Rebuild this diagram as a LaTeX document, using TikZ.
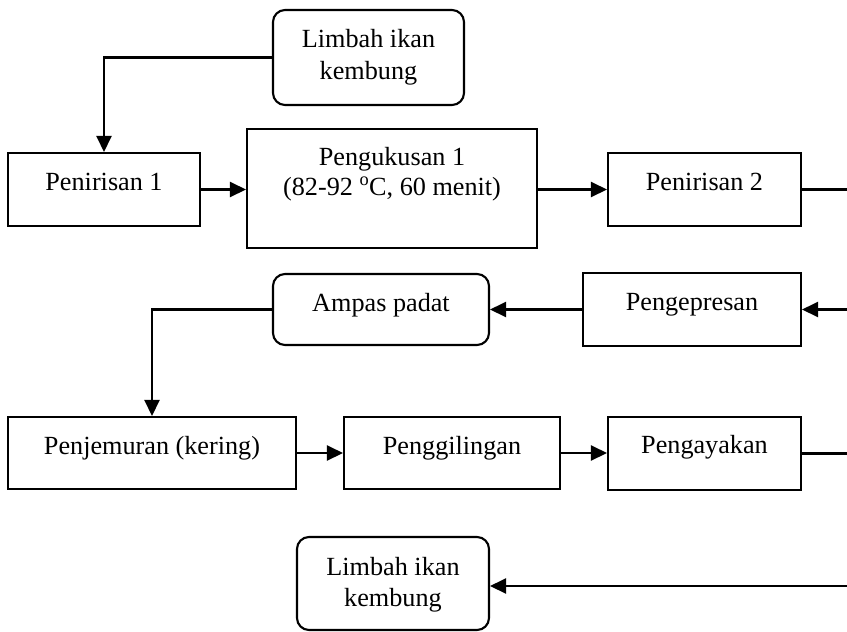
\documentclass[tikz,border=0pt]{standalone}
\usepackage{fontspec}
\setmainfont{Liberation Serif}
\usetikzlibrary{arrows.meta}
\begin{document}
\begin{tikzpicture}[x=1pt,y=-1pt,
  box/.style={draw, line width=2.1pt, inner sep=0pt, rectangle},
  rbox/.style={box, rounded corners=12pt},
  lbl/.style={anchor=base, inner sep=0pt, font=\fontsize{26.2}{31}\selectfont},
  conn/.style={line width=2.5pt},
  arr/.style={conn, -{Triangle[length=16pt,width=15pt]}}
]
\useasboundingbox (0,0) rectangle (847,632);
% boxes
\node[rbox, minimum width=191pt, minimum height=95pt] (lim1) at (368.5,57.5) {};
\node[box, minimum width=192pt, minimum height=73pt] (p1) at (104,189.5) {};
\node[box, minimum width=290pt, minimum height=119pt] (kukus) at (392,188.5) {};
\node[box, minimum width=193pt, minimum height=73pt] (p2) at (704.5,189.5) {};
\node[box, minimum width=218pt, minimum height=73pt] (press) at (692,309.5) {};
\node[rbox, minimum width=216pt, minimum height=71pt] (ampas) at (381,309.5) {};
\node[box, minimum width=288pt, minimum height=72pt] (jemur) at (152,453) {};
\node[box, minimum width=216pt, minimum height=72pt] (giling) at (452,453) {};
\node[box, minimum width=193pt, minimum height=73pt] (ayak) at (704.5,453.5) {};
\node[rbox, minimum width=192pt, minimum height=93pt] (lim2) at (393,583.5) {};
% labels
\node[lbl] (t1a) at (368.5,47.7) {Limbah ikan};
\node[lbl] (t1b) at (368.5,79) {kembung};
\node[lbl] (t2) at (104,190) {Penirisan 1};
\node[lbl] (t3a) at (392,165) {Pengukusan 1};
\node[lbl] (t3b) at (392,195) {(82-92 \textsuperscript{o}C, 60 menit)};
\node[lbl] (t4) at (704.5,190) {Penirisan 2};
\node[lbl] (t5) at (692,310) {Pengepresan};
\node[lbl] (t6) at (381,311) {Ampas padat};
\node[lbl] (t7) at (152,454) {Penjemuran (kering)};
\node[lbl] (t8) at (452,454) {Penggilingan};
\node[lbl] (t9) at (704.5,453) {Pengayakan};
\node[lbl] (t10a) at (393,575) {Limbah ikan};
\node[lbl] (t10b) at (393,606) {kembung};
% edge coordinates
\coordinate (e1) at (847,189.5);
\coordinate (e2) at (847,309.5);
\coordinate (e3) at (847,453.5);
\coordinate (e4) at (847,586);
% connectors
\draw[arr] (lim1.west) -| (p1.north);
\draw[arr] (p1.east) -- (p1.east -| kukus.west);
\draw[arr] (p2.west -| kukus.east) -- (p2.west);
\draw[conn] (p2.east) -- (e1);
\draw[arr] (e2) -- (press.east);
\draw[arr] (press.west) -- (ampas.east);
\draw[arr] (ampas.west) -| (jemur.north);
\draw[arr] (jemur.east) -- (giling.west);
\draw[arr] (giling.east) -- (giling.east -| ayak.west);
\draw[conn] (ayak.east) -- (e3);
\draw[arr] (e4) -- (e4 -| lim2.east);
\end{tikzpicture}
\end{document}
